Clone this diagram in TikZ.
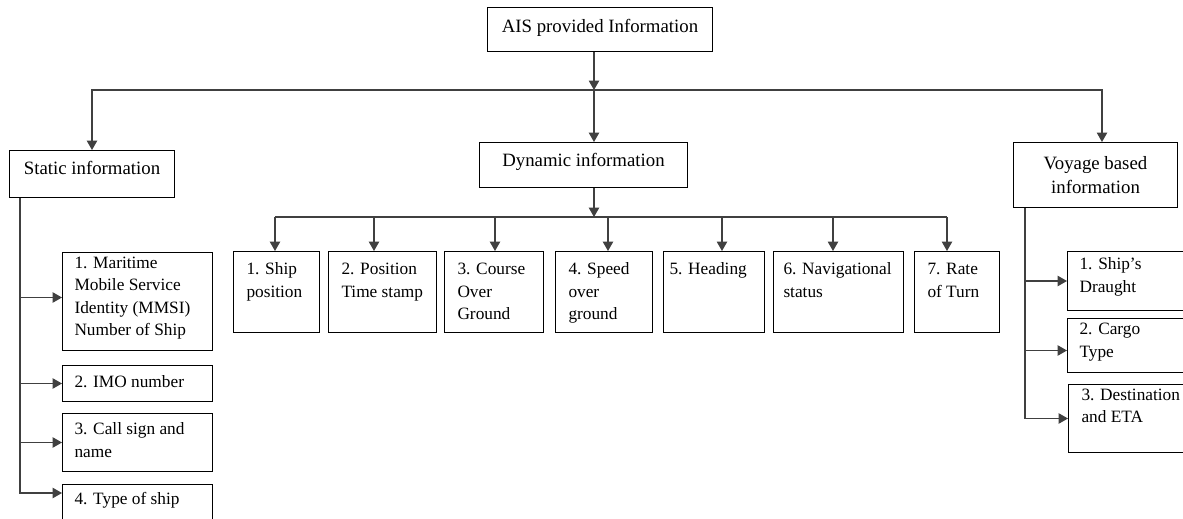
\documentclass[tikz,border=0pt]{standalone}
\usepackage{fontspec}
\setmainfont{Liberation Serif}
\usetikzlibrary{arrows.meta}
\newcommand\headfont{\fontsize{18.8}{24}\selectfont}
\newcommand\cellfont{\fontsize{17.3}{22.5}\selectfont}
\newcommand\cellbox[5]{\parbox[c][#2][t]{#1}{\raggedright\leftskip=#4\relax\vspace*{#3}\strut #5\par}}
\begin{document}
\begin{tikzpicture}[x=1pt,y=-1pt,
  conn/.style={draw=black!75, line width=1.15pt},
  arr/.style={conn, -{Triangle[length=9.5pt,width=10.5pt]}},
  hbox/.style={draw=black, line width=1pt, inner sep=0pt, anchor=north west, font=\headfont, align=center},
  cbox/.style={draw=black, line width=1pt, inner sep=0pt, anchor=north west, font=\cellfont}]
\useasboundingbox (0,0) rectangle (1183,519);
\clip (0,0) rectangle (1183,519);
\fill[white] (0,0) rectangle (1183,519);

% main boxes
\node[hbox, minimum width=225pt, minimum height=44pt, text height=9.7pt, text depth=4.3pt] (ais) at (487,7) {AIS provided Information};
\node[hbox, minimum width=165pt, minimum height=47pt, text height=7pt, text depth=7pt] (stat) at (9,150) {Static information};
\node[hbox, minimum width=208pt, minimum height=45pt, text height=8.2pt, text depth=5.8pt] (dyn) at (479,142) {Dynamic information};
\node[hbox, minimum width=164pt, minimum height=65pt] (voy) at (1013,142) {Voyage based\\information};

% static children
\node[cbox] (s1) at (62,252) {\cellbox{150pt}{98pt}{0pt}{12pt}{1. Maritime\\Mobile Service\\Identity (MMSI)\\Number of Ship}};
\node[cbox] (s2) at (62,365) {\cellbox{150pt}{36pt}{6.7pt}{12pt}{2. IMO number}};
\node[cbox] (s3) at (62,413) {\cellbox{150pt}{58pt}{5.7pt}{12pt}{3. Call sign and\\name}};
\node[cbox] (s4) at (62,484) {\cellbox{150pt}{60pt}{4.7pt}{12pt}{4. Type of ship}};

% dynamic children
\node[cbox] (d1) at (233,251) {\cellbox{86pt}{81pt}{7.7pt}{13pt}{1. Ship\\position}};
\node[cbox] (d2) at (328,251) {\cellbox{108pt}{81pt}{7.7pt}{13pt}{2. Position\\Time stamp}};
\node[cbox] (d3) at (444,251) {\cellbox{99pt}{81pt}{7.7pt}{13pt}{3. Course\\Over\\Ground}};
\node[cbox] (d4) at (555,251) {\cellbox{97pt}{81pt}{7.7pt}{13pt}{4. Speed\\over\\ground}};
\node[cbox] (d5) at (663,251) {\cellbox{101pt}{81pt}{7.7pt}{6pt}{5. Heading}};
\node[cbox] (d6) at (773,251) {\cellbox{130pt}{81pt}{7.7pt}{10pt}{6. Navigational\\status}};
\node[cbox] (d7) at (914,251) {\cellbox{85pt}{81pt}{7.7pt}{13pt}{7. Rate\\of Turn}};

% voyage children
\node[cbox] (v1) at (1067,251) {\cellbox{140pt}{59pt}{2.7pt}{12pt}{1. Ship’s\\Draught}};
\node[cbox] (v2) at (1067,318) {\cellbox{140pt}{54pt}{0.7pt}{12pt}{2. Cargo\\Type}};
\node[cbox] (v3) at (1068,384) {\cellbox{140pt}{68pt}{0pt}{13pt}{3. Destination\\and ETA}};

% top level connectors
\coordinate (j1) at (594,90);
\coordinate (jr) at (1102,90);
\draw[arr] (ais.south -| j1) -- (j1);
\draw[arr] (j1) -- (j1 |- dyn.north);
\draw[arr] (j1) -| (stat.north);
\draw[arr] (j1) -- (jr) -- (jr |- voy.north);

% dynamic connectors
\coordinate (j2) at (594,217);
\draw[arr] (dyn.south -| j2) -- (j2);
\coordinate (b1) at (275,217);
\coordinate (b2) at (374,217);
\coordinate (b3) at (495,217);
\coordinate (b4) at (608,217);
\coordinate (b5) at (722,217);
\coordinate (b6) at (833,217);
\coordinate (b7) at (947,217);
\draw[conn] (b1) -- (b7);
\foreach \i in {1,...,7} {\draw[arr] (b\i) -- (b\i |- d\i.north);}

% static connectors
\coordinate (sx) at (20,0);
\coordinate (s1a) at ([yshift=4pt]s1.west);
\coordinate (s4a) at ([yshift=-9pt]s4.north west);
\draw[arr] (stat.south -| sx) |- (s4a);
\draw[arr] (s1a -| sx) -- (s1a);
\draw[arr] (s2.west -| sx) -- (s2.west);
\draw[arr] (s3.west -| sx) -- (s3.west);

% voyage connectors
\coordinate (vx) at (1025,0);
\coordinate (v2a) at ([yshift=-5pt]v2.west);
\draw[arr] (voy.south -| vx) |- (v3.west);
\draw[arr] (v1.west -| vx) -- (v1.west);
\draw[arr] (v2a -| vx) -- (v2a);
\end{tikzpicture}
\end{document}
